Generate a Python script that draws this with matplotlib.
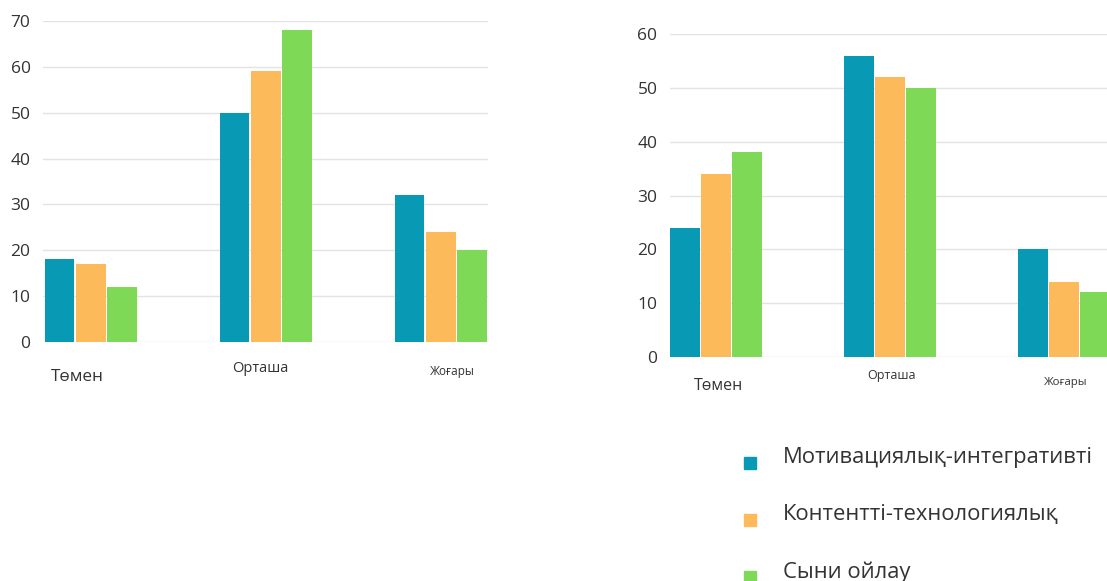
import matplotlib
matplotlib.use("Agg")
import matplotlib.pyplot as plt
import numpy as np
from matplotlib.lines import Line2D

plt.rcParams["font.family"] = ["Open Sans", "DejaVu Sans"]

W, H = 1107, 581

categories = ["Төмен", "Орташа", "Жоғары"]
series = ["Мотивациялық-интегративті", "Контентті-технологиялық", "Сыни ойлау"]
colors = ["#0899B4", "#FDBA5A", "#7ED957"]

left_values = [
    [18, 50, 32],
    [17, 59, 24],
    [12, 68, 20],
]
right_values = [
    [24, 56, 20],
    [34, 52, 14],
    [38, 50, 12],
]
left_ticks = [0, 10, 20, 30, 40, 50, 60, 70]
right_ticks = [0, 10, 20, 30, 40, 50, 60]


def px_box(x0, y0, x1, y1):
    # pixel box (top-left origin) -> figure fraction rect
    return [x0 / W, 1 - y1 / H, (x1 - x0) / W, (y1 - y0) / H]


def draw_panel(ax, values, ticks, xlim, label_pos):
    x = np.arange(len(categories))
    step = 0.178
    width = 0.168
    for i, vals in enumerate(values):
        ax.bar(x + (i - 1) * step, vals, width=width, color=colors[i],
               zorder=3, clip_on=True)
    ax.set_xlim(*xlim)
    ax.set_ylim(0, ticks[-1])
    ax.set_yticks(ticks)
    ax.yaxis.grid(True, color="#E3E3E3", linewidth=1.0, zorder=0)
    ax.set_xticks([])
    for s in ax.spines.values():
        s.set_visible(False)
    ax.tick_params(axis="y", length=0, pad=9, labelsize=12.5, labelcolor="#333333")
    for label, (px, py, fs) in zip(categories, label_pos):
        fig.text(px / W, 1 - py / H, label, ha="center", va="center",
                 fontsize=fs, color="#333333")


fig = plt.figure(figsize=(W / 100, H / 100), dpi=100)
fig.patch.set_facecolor("white")

ax1 = fig.add_axes(px_box(43, 21, 488, 342))
draw_panel(ax1, left_values, left_ticks, (-0.274, 2.269),
           [(77, 377, 12.3), (260, 369, 10.5), (452, 372, 8.5)])

ax2 = fig.add_axes(px_box(670, 34, 1107, 357))
draw_panel(ax2, right_values, right_ticks, (-0.264, 2.247),
           [(718, 386, 11.5), (892, 376, 9), (1066, 383, 8.2)])

for i, (name, c) in enumerate(zip(series, colors)):
    y = 458 + i * 57
    fig.add_artist(Line2D([750 / W], [1 - (y + 5) / H], marker="s",
                          linestyle="none", markersize=8,
                          markerfacecolor=c, markeredgecolor=c,
                          transform=fig.transFigure))
    fig.text(783 / W, 1 - y / H, name, ha="left", va="center",
             fontsize=15.8, color="#333333")

fig.savefig("out.png", dpi=100, facecolor="white")
